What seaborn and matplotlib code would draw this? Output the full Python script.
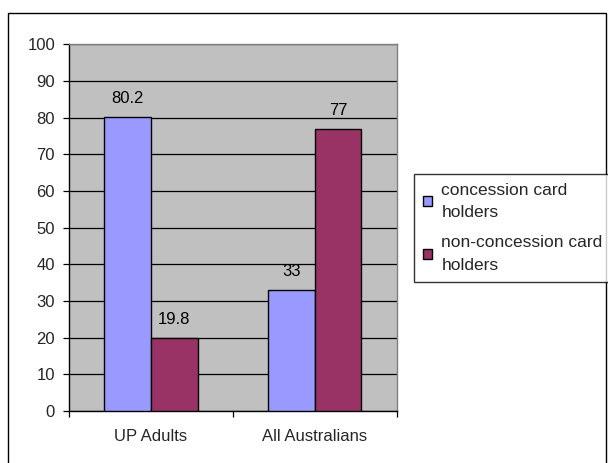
import matplotlib
matplotlib.use("Agg")
import matplotlib.pyplot as plt
import seaborn as sns
import pandas as pd
from matplotlib.patches import Rectangle

# Survey shares (%) by group
categories = ["UP Adults", "All Australians"]
series_names = ["concession card\nholders", "non-concession card\nholders"]
concession = [80.2, 33]
non_concession = [19.8, 77]
y_ticks = [0, 10, 20, 30, 40, 50, 60, 70, 80, 90, 100]

df = pd.DataFrame({
    "group": categories * 2,
    "holder": [series_names[0]] * len(categories) + [series_names[1]] * len(categories),
    "value": concession + non_concession,
})

sns.set_theme(style="white")
plt.rcParams["font.family"] = ["Liberation Sans", "DejaVu Sans"]
FS = 12

fig = plt.figure(figsize=(6.08, 4.63), dpi=100)
fig.patch.set_facecolor("white")
ax = fig.add_axes([69 / 608, 1 - 411 / 463, (396.5 - 69) / 608, (411 - 44.3) / 463])
ax.set_facecolor("#C0C0C0")

palette = ["#9999FF", "#993366"]
sns.barplot(data=df, x="group", y="value", hue="holder", order=categories,
            hue_order=series_names, palette=palette, width=0.57, gap=0,
            edgecolor="black", linewidth=1.0, saturation=1, ax=ax, zorder=3)

# value labels above each bar
for cont in ax.containers:
    ax.bar_label(cont, fmt="%g", padding=8, fontsize=FS, color="black")

ax.set_ylim(0, 100)
ax.set_xlim(-0.5, 1.5)
ax.set_yticks(y_ticks)
ax.set_yticklabels([str(t) for t in y_ticks], fontsize=FS)
ax.set_xlabel("")
ax.set_ylabel("")
ax.set_axisbelow(True)
ax.yaxis.grid(True, color="black", linewidth=0.9)
ax.xaxis.grid(False)
ax.tick_params(axis="y", which="both", left=True, length=4.5, width=0.9, color="black",
               pad=5.5, labelsize=FS)

# category labels centred, ticks at the category boundaries
ax.set_xticks([0, 1])
ax.set_xticklabels(categories, fontsize=FS)
ax.tick_params(axis="x", which="major", length=0, pad=13)
ax.set_xticks([-0.5, 0.5, 1.5], minor=True)
ax.tick_params(axis="x", which="minor", bottom=True, length=4.5, width=0.9, color="black")

for side in ["left", "bottom"]:
    ax.spines[side].set_color("black")
    ax.spines[side].set_linewidth(1.0)
for side in ["top", "right"]:
    ax.spines[side].set_color("#808080")
    ax.spines[side].set_linewidth(1.0)

# legend on the right
handles, labels = ax.get_legend_handles_labels()
ax.get_legend().remove()
leg = fig.legend(handles, labels, loc="upper left",
                 bbox_to_anchor=(414.5 / 608, 1 - 174 / 463),
                 frameon=True, fancybox=False, fontsize=12.5,
                 handlelength=0.5, handleheight=0.5, handletextpad=0.55,
                 borderpad=0.5, labelspacing=0.85, borderaxespad=0)
leg.get_frame().set_edgecolor("black")
leg.get_frame().set_linewidth(1.0)
for t in leg.get_texts():
    t.set_linespacing(1.65)

# chart-area border
fig.patches.append(Rectangle((7.5 / 608, -0.05), (606 - 7.5) / 608, 1.05 - 12.7 / 463,
                             transform=fig.transFigure, fill=False,
                             edgecolor="black", linewidth=1.0))

fig.savefig("out.png", dpi=100)
